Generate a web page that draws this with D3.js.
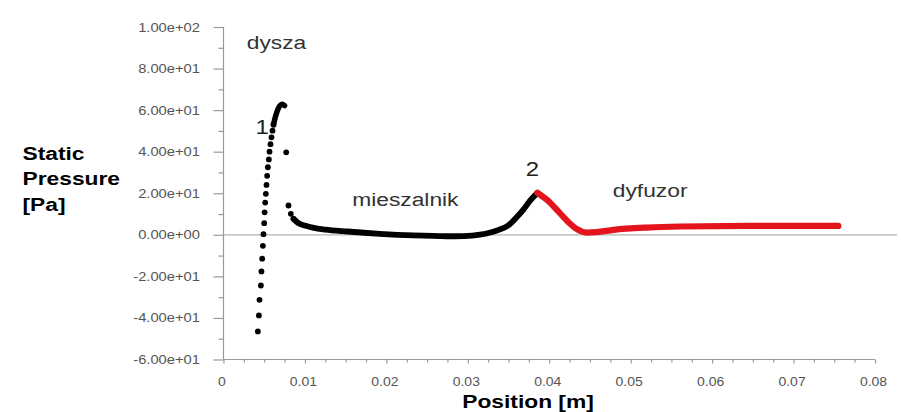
<!DOCTYPE html>
<html>
<head>
<meta charset="utf-8">
<script src="https://cdn.jsdelivr.net/npm/d3@7"></script>
<style>
  html, body { margin: 0; padding: 0; background: #fff; }
  svg { display: block; }
</style>
</head>
<body>
<svg id="chart" width="901" height="412"></svg>
<script>
// Static pressure along the ejector axis: nozzle (dysza), mixing chamber (mieszalnik), diffuser (dyfuzor)

// Position [m], static pressure [Pa]
const nozzleDots = [
  [0.00422, -46.5], [0.00435, -38.8], [0.00442, -31.3], [0.00459, -24.4],
  [0.00466, -17.6], [0.00475, -11.5], [0.00484, -5.3], [0.00491, 0.3],
  [0.00500, 5.6], [0.00505, 10.8], [0.00512, 15.5], [0.00520, 19.7],
  [0.00528, 24.0], [0.00536, 28.4], [0.00545, 32.5], [0.00557, 36.3],
  [0.00565, 40.0], [0.00577, 43.6], [0.00589, 46.9], [0.00602, 50.1],
  [0.00614, 53.0]
];
const nozzleCrest = [
  [0.00614, 53.0], [0.00635, 56.5], [0.00663, 59.8], [0.00690, 62.0],
  [0.00720, 62.8], [0.00750, 62.2]
];
const throatDots = [
  [0.00770, 39.7], [0.00798, 14.1], [0.00827, 10.1], [0.00860, 7.7]
];
const mixingCurve = [
  [0.0086, 7.7], [0.0092, 5.6], [0.0102, 4.2], [0.0111, 3.3], [0.0125, 2.5],
  [0.0152, 1.6], [0.0192, 0.5], [0.0233, -0.3], [0.0274, -0.7], [0.0295, -0.6],
  [0.0315, 0.1], [0.0338, 2.4], [0.0350, 4.6], [0.0360, 8.5], [0.0368, 12.0],
  [0.03765, 16.5], [0.03855, 20.2]
];
const diffuserCurve = [
  [0.03855, 20.2], [0.0397, 16.9], [0.0408, 12.6], [0.0417, 8.8], [0.0426, 5.2],
  [0.0434, 2.7], [0.0446, 1.1], [0.0458, 1.3], [0.0479, 2.4], [0.0520, 3.5],
  [0.0561, 4.0], [0.0643, 4.3], [0.0724, 4.3], [0.0755, 4.3]
];

const xTickValues = [0, 0.01, 0.02, 0.03, 0.04, 0.05, 0.06, 0.07, 0.08];
const xTickLabels = ["0", "0.01", "0.02", "0.03", "0.04", "0.05", "0.06", "0.07", "0.08"];
const yTickValues = [100, 80, 60, 40, 20, 0, -20, -40, -60];
const yTickLabels = ["1.00e+02", "8.00e+01", "6.00e+01", "4.00e+01", "2.00e+01",
                     "0.00e+00", "-2.00e+01", "-4.00e+01", "-6.00e+01"];

const regionLabels = [
  { text: "dysza", x: 0.00285, y: 89.5 },
  { text: "mieszalnik", x: 0.0158, y: 14 },
  { text: "dyfuzor", x: 0.0478, y: 18 }
];
const pointLabels = [
  { text: "1", x: 0.00557, y: 48.5 },
  { text: "2", x: 0.03874, y: 28.5 }
];

const svg = d3.select("#chart");
const FONT = "'Liberation Sans', Arial, sans-serif";
const STRETCH = 1.2;

const x = d3.scaleLinear().domain([0, 0.08]).range([223.5, 875]);
const y = d3.scaleLinear().domain([-60, 100]).range([359.5, 27]);

// text drawn slightly wider than the face's natural proportions
function label(g, px, py, str, opt) {
  return g.append("text")
    .attr("transform", `translate(${px},${py}) scale(${opt.sx || STRETCH},1)`)
    .attr("text-anchor", opt.anchor || "start")
    .attr("font-family", FONT)
    .attr("font-size", opt.size)
    .attr("font-weight", opt.weight || "normal")
    .attr("fill", opt.fill || "#000")
    .text(str);
}

// zero reference line
svg.append("line")
  .attr("x1", x(0)).attr("x2", 897)
  .attr("y1", y(0)).attr("y2", y(0))
  .attr("stroke", "#b4b4b4").attr("stroke-width", 1.3);

// y axis with minor ticks
const yMinor = d3.range(-60, 101, 10);
const yAxisG = svg.append("g").attr("transform", `translate(${x(0)},0)`);
yAxisG.call(d3.axisLeft(y).tickValues(yMinor).tickSize(5).tickFormat(""));
yAxisG.selectAll(".tick").filter(d => yTickValues.includes(d)).select("line").attr("x2", -10);
yAxisG.selectAll("path, line").attr("stroke", "#9a9a9a").attr("stroke-width", 1.2);
yAxisG.select(".domain").attr("d", `M0,${y(100)}V${y(-60)}`);

yTickValues.forEach((v, i) => {
  label(svg, 200, y(v) + 4.5, yTickLabels[i], { size: 12.5, anchor: "end", fill: "#555", sx: 1.18 });
});

// x axis with minor ticks
const xMinor = d3.range(0, 0.08001, 0.0025);
const xAxisG = svg.append("g").attr("transform", `translate(0,${y(-60)})`);
xAxisG.call(d3.axisBottom(x).tickValues(xMinor).tickSize(3).tickFormat(""));
xAxisG.selectAll(".tick").filter(d => xTickValues.some(t => Math.abs(t - d) < 1e-9)).select("line").attr("y2", 4);
xAxisG.selectAll("path, line").attr("stroke", "#9a9a9a").attr("stroke-width", 1.2);
xAxisG.select(".domain").attr("d", `M${x(0)},0H${x(0.08)}`);

xTickValues.forEach((v, i) => {
  label(svg, x(v) - 1.5, 386, xTickLabels[i], { size: 12.5, anchor: "middle", fill: "#555", sx: 1.12 });
});

// axis titles
label(svg, 528, 408, "Position [m]", { size: 19, weight: "bold", anchor: "middle" });
["Static", "Pressure", "[Pa]"].forEach((t, i) => {
  label(svg, 22.5, 159.5 + i * 25.5, t, { size: 19, weight: "bold" });
});

// series
const line = d3.line().x(d => x(d[0])).y(d => y(d[1])).curve(d3.curveMonotoneX);
const lineSteep = d3.line().x(d => x(d[0])).y(d => y(d[1])).curve(d3.curveCatmullRom.alpha(0.5));

svg.append("path").datum(nozzleCrest)
  .attr("d", lineSteep).attr("fill", "none")
  .attr("stroke", "#000").attr("stroke-width", 5.5)
  .attr("stroke-linecap", "round").attr("stroke-linejoin", "round");

svg.append("path").datum(mixingCurve)
  .attr("d", line).attr("fill", "none")
  .attr("stroke", "#000").attr("stroke-width", 5.8)
  .attr("stroke-linecap", "round").attr("stroke-linejoin", "round");

svg.append("path").datum(diffuserCurve)
  .attr("d", line).attr("fill", "none")
  .attr("stroke", "#e3141c").attr("stroke-width", 6.2)
  .attr("stroke-linecap", "round").attr("stroke-linejoin", "round");

svg.selectAll("circle.dot")
  .data(nozzleDots.concat(throatDots))
  .join("circle")
  .attr("class", "dot")
  .attr("cx", d => x(d[0]))
  .attr("cy", d => y(d[1]))
  .attr("r", 2.9)
  .attr("fill", "#000");

// region and point annotations
regionLabels.forEach(l => {
  label(svg, x(l.x), y(l.y), l.text, { size: 19, fill: "#333" });
});
pointLabels.forEach(l => {
  label(svg, x(l.x), y(l.y), l.text, { size: 20, fill: "#222", anchor: "end" });
});
</script>
</body>
</html>
